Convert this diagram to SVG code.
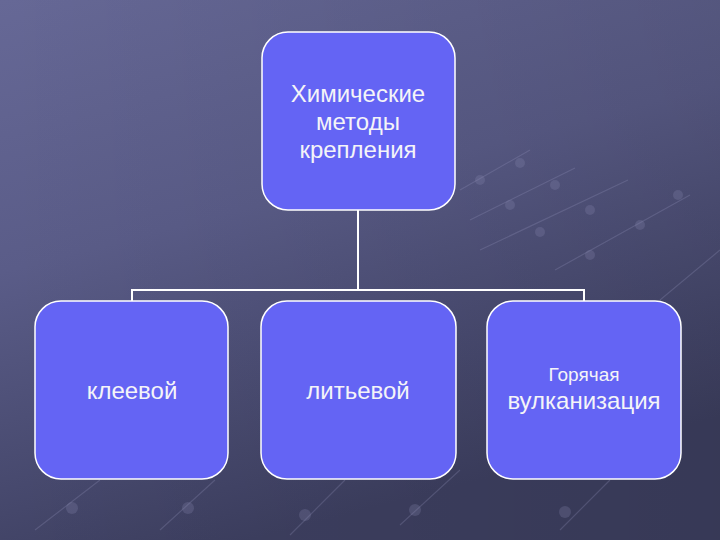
<svg xmlns="http://www.w3.org/2000/svg" width="720" height="540" viewBox="0 0 720 540">
<defs>
<linearGradient id="bg" x1="0" y1="0" x2="0.35" y2="1">
<stop offset="0" stop-color="#666896"/>
<stop offset="0.45" stop-color="#5a5c88"/>
<stop offset="1" stop-color="#3d3f60"/>
</linearGradient>
<linearGradient id="shade" x1="0" y1="0" x2="1" y2="0">
<stop offset="0" stop-color="#000" stop-opacity="0"/>
<stop offset="1" stop-color="#000" stop-opacity="0.1"/>
</linearGradient>
</defs>
<style>
.box{fill:#6464f4;stroke:#ffffff;stroke-width:1.5}
.t{font-family:"Liberation Sans",Arial,sans-serif;fill:#f4f4f8;text-anchor:middle}
.c{fill:none;stroke:#ffffff;stroke-width:2}
.deco{stroke:#9a9cc4;stroke-opacity:0.25;stroke-width:1.2;fill:none}
.dot{fill:#8a8cb4;fill-opacity:0.25}
</style>
<rect x="0" y="0" width="720" height="540" fill="url(#bg)"/>
<rect x="0" y="0" width="720" height="540" fill="url(#shade)"/>
<g id="background-decor">
<path class="deco" d="M460 190 L530 150 M470 220 L575 168 M480 250 L628 180 M555 270 L690 195 M660 300 L720 250 M35 530 L100 480 M160 530 L215 480 M290 535 L345 480 M400 525 L460 470 M560 530 L610 480"/>
<circle class="dot" cx="480" cy="180" r="5"/><circle class="dot" cx="520" cy="163" r="5"/>
<circle class="dot" cx="510" cy="205" r="5"/><circle class="dot" cx="555" cy="185" r="5"/>
<circle class="dot" cx="540" cy="232" r="5"/><circle class="dot" cx="590" cy="210" r="5"/>
<circle class="dot" cx="590" cy="255" r="5"/><circle class="dot" cx="640" cy="225" r="5"/><circle class="dot" cx="678" cy="195" r="5"/>
<circle class="dot" cx="72" cy="508" r="6"/><circle class="dot" cx="188" cy="508" r="6"/><circle class="dot" cx="305" cy="515" r="6"/><circle class="dot" cx="415" cy="510" r="6"/><circle class="dot" cx="565" cy="512" r="6"/>
</g>
<g id="connectors">
<path class="c" d="M358 210 V290"/>
<path class="c" d="M132 301 V290 H584 V301"/>
</g>
<g id="node-root">
<rect class="box" x="262" y="32" width="193" height="178" rx="26"/>
<text class="t" font-size="24"><tspan x="358" y="102">Химические</tspan><tspan x="358" y="130">методы</tspan><tspan x="358" y="158">крепления</tspan></text>
</g>
<g id="node-kleevoy">
<rect class="box" x="35" y="301" width="193" height="178" rx="26"/>
<text class="t" x="132" y="399" font-size="24">клеевой</text>
</g>
<g id="node-litevoy">
<rect class="box" x="261" y="301" width="195" height="178" rx="26"/>
<text class="t" x="358" y="399" font-size="24">литьевой</text>
</g>
<g id="node-vulkanizatsiya">
<rect class="box" x="487" y="301" width="194" height="178" rx="26"/>
<text class="t" x="584" y="381" font-size="19">Горячая</text>
<text class="t" x="584" y="409" font-size="24">вулканизация</text>
</g>
</svg>
